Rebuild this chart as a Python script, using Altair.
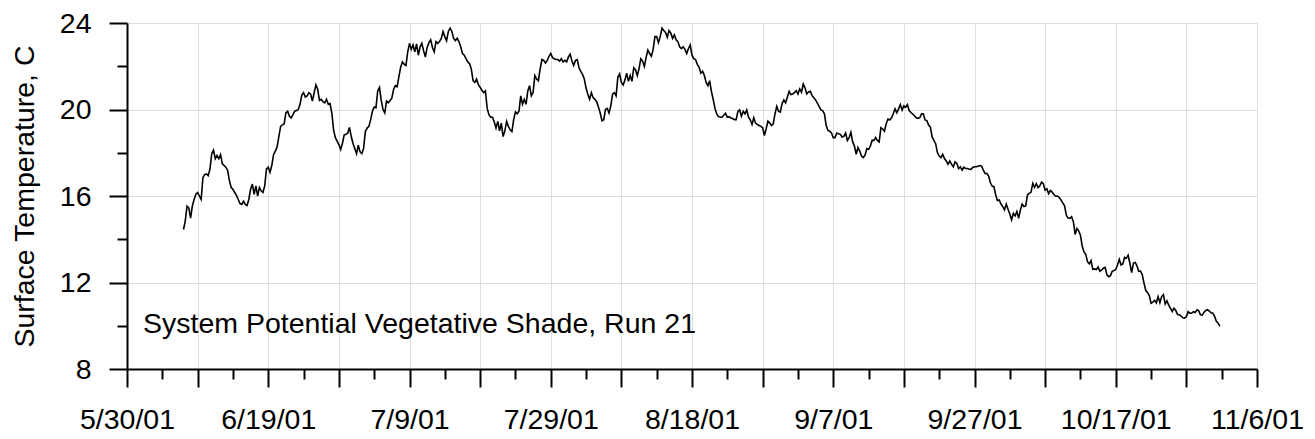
import altair as alt
import pandas as pd

# ---- data (6-hour readings starting 6/7/01 00:00) ----
temps_jun_jul = [
    14.45, 14.85, 15.53, 15.45, 14.98, 15.53, 15.84, 16.08, 16.16, 16.00,
    15.84, 16.86, 16.99, 17.02, 16.94, 17.25, 17.96, 18.12, 17.73, 17.88,
    17.73, 17.91, 17.49, 17.41, 17.33, 17.18, 16.71, 16.39, 16.31, 16.16,
    16.03, 15.84, 15.65, 15.61, 15.76, 15.61, 15.56, 15.84, 16.31, 16.55,
    16.08, 16.47, 16.00, 16.39, 16.24, 16.16, 16.47, 17.25, 17.33, 17.10,
    17.41, 17.91, 18.07, 18.27, 18.75, 19.22, 19.29, 19.33, 19.84, 19.92,
    19.69, 19.61, 19.76, 19.92, 19.95, 20.00, 20.24, 20.67, 20.78, 20.58,
    20.63, 20.78, 20.71, 20.39, 20.78, 21.14, 20.94, 20.42, 20.47, 20.36,
    20.31, 20.47, 20.24, 20.27, 19.84, 19.06, 18.70, 18.54, 18.38, 18.15,
    18.43, 18.82, 18.85, 18.90, 19.17, 18.75, 18.43, 18.20, 17.96, 18.35,
    18.04, 17.96, 18.20, 18.98, 19.14, 19.22, 19.53, 19.92, 20.11, 20.08,
    20.86, 21.02, 20.42, 20.00, 19.84, 20.39, 20.31, 20.42, 20.52, 20.94,
    21.10, 21.05, 21.52, 21.96, 22.20, 22.09, 22.04, 22.67, 23.06, 22.78,
    22.98, 22.67, 23.03, 22.51, 22.90, 23.06, 22.71, 22.43, 22.87, 23.09,
    23.22, 22.87, 22.67, 23.14, 23.06, 23.14, 23.29, 23.61, 23.37, 23.18,
    23.61, 23.76, 23.61, 23.29, 23.18, 23.29, 23.14, 22.90, 22.59, 22.51,
]
temps_jul_aug = [
    22.35, 22.20, 22.12, 21.88, 21.33, 21.25, 21.41, 21.15, 21.02, 20.89,
    20.78, 20.86, 20.05, 19.76, 19.64, 19.64, 19.42, 19.14, 19.45, 19.01,
    19.37, 18.75, 19.01, 19.45, 19.22, 19.06, 18.98, 19.53, 19.89, 19.80,
    19.92, 20.63, 20.24, 20.47, 20.24, 20.86, 21.10, 20.63, 20.78, 21.57,
    21.41, 21.33, 21.88, 22.31, 22.27, 22.15, 22.27, 22.46, 22.59, 22.40,
    22.35, 22.31, 22.31, 22.24, 22.35, 22.20, 22.27, 22.20, 22.43, 22.56,
    22.24, 22.04, 22.27, 22.31, 21.93, 21.76, 21.62, 21.41, 20.99, 20.71,
    20.47, 20.78, 20.55, 20.47, 20.36, 20.11, 19.84, 19.48, 19.53, 20.00,
    20.05, 19.84, 20.16, 20.71, 20.78, 20.63, 21.49, 21.65, 21.25, 21.13,
    21.36, 21.68, 21.30, 21.57, 21.30, 21.93, 21.84, 21.57, 21.88, 22.35,
    22.24, 21.99, 22.40, 22.75, 22.59, 22.46, 22.78, 23.37, 23.37, 23.09,
    23.37, 23.76, 23.65, 23.56, 23.34, 23.65, 23.53, 23.29, 23.45, 23.22,
    23.14, 22.90, 22.82, 22.90, 22.78, 22.59, 22.82, 22.98, 22.51, 22.35,
    22.31, 22.09, 21.96, 21.68, 21.77, 21.57, 21.25, 21.10, 21.33, 20.83,
    20.47, 20.05, 19.80, 19.67, 19.64, 19.64, 19.73, 19.83, 19.64, 19.67,
    19.61, 19.58, 19.53, 19.53, 19.92, 19.98, 19.69, 19.92, 19.80, 19.98,
    19.64,
]
temps_aug_sep = [
    19.52, 19.31, 19.62, 19.37, 19.31, 19.26, 19.22, 19.16, 18.80, 19.11,
    19.46, 19.37, 19.26, 19.34, 19.80, 20.15, 19.92, 19.88, 20.26, 20.44,
    20.31, 20.57, 20.84, 20.69, 20.72, 20.78, 20.87, 20.72, 20.95, 20.80,
    21.18, 21.00, 20.72, 20.81, 20.84, 20.64, 20.54, 20.44, 20.29, 20.14,
    19.98, 19.95, 19.80, 19.26, 19.03, 19.00, 18.91, 18.70, 18.70, 18.91,
    18.88, 18.85, 18.73, 18.76, 18.91, 18.57, 18.70, 18.94, 18.50, 18.31,
    17.93, 18.24, 18.08, 17.85, 17.78, 17.89, 18.19, 18.15, 18.30, 18.57,
    18.57, 18.70, 18.57, 18.50, 19.16, 19.10, 19.00, 19.34, 19.56, 19.52,
    19.62, 19.80, 20.03, 19.85, 20.03, 20.23, 19.98, 20.17, 20.11, 20.23,
    19.95, 19.86, 19.79, 19.71, 19.62, 19.59, 19.62, 19.80, 19.80, 19.52,
    19.49, 19.28, 19.19, 18.73, 18.57, 18.42, 18.01, 17.85, 17.78, 17.93,
    17.73, 17.62, 17.47, 17.62, 17.47, 17.35, 17.58, 17.50, 17.27, 17.35,
    17.20, 17.33, 17.27, 17.27, 17.24, 17.23, 17.32, 17.35, 17.35, 17.38,
    17.41, 17.38, 17.20, 17.04, 17.04, 16.92, 16.61, 16.46, 16.43, 16.05,
    15.79, 15.82, 15.63, 15.51, 15.36, 15.63, 15.39, 15.17, 14.90, 15.20,
    15.08, 15.28, 14.97, 15.36, 15.63, 15.51, 15.54, 16.05, 16.12, 16.17,
    16.58,
]
temps_oct = [
    16.40, 16.57, 16.39, 16.47, 16.64, 16.57, 16.27, 16.33, 16.11, 16.25,
    16.18, 16.07, 15.99, 16.00, 15.93, 15.81, 15.68, 15.55, 15.12, 14.98,
    14.96, 15.04, 14.81, 14.22, 14.50, 14.39, 14.19, 13.69, 13.41, 13.30,
    12.96, 12.86, 13.01, 12.61, 12.63, 12.60, 12.72, 12.52, 12.58, 12.66,
    12.70, 12.35, 12.27, 12.32, 12.52, 12.55, 12.60, 12.81, 13.07, 12.81,
    12.86, 13.16, 13.12, 13.26, 12.89, 12.46, 12.89, 12.93, 12.77, 12.52,
    12.53, 12.37, 11.97, 11.63, 11.54, 11.40, 11.04, 11.09, 11.18, 11.06,
    11.35, 11.07, 11.35, 11.44, 11.01, 11.15, 10.95, 10.81, 10.66, 10.81,
    10.71, 10.52, 10.51, 10.45, 10.37, 10.35, 10.43, 10.65, 10.58, 10.58,
    10.65, 10.61, 10.74, 10.69, 10.51, 10.49, 10.63, 10.71, 10.74, 10.68,
    10.60, 10.58, 10.43, 10.20, 10.12, 9.97,
]
series_start = "2001-06-07 00:00"
reading_step = "6h"

x_start = (2001, 5, 30)
x_end = (2001, 11, 6)
y_domain = [8, 24]
y_tick_values = [8, 10, 12, 14, 16, 18, 20, 22, 24]
annotation_text = "System Potential Vegetative Shade, Run 21"
annotation_time = ["2001-06-01T06:30:00"]
annotation_temp = [9.66]
y_title = "Surface Temperature, C"

# ---- tables ----
temps = temps_jun_jul + temps_jul_aug + temps_aug_sep + temps_oct
df = pd.DataFrame({
    "time": pd.date_range(series_start, periods=len(temps), freq=reading_step),
    "temp": temps,
})
ann = pd.DataFrame({"time": annotation_time, "temp": annotation_temp,
                    "label": [annotation_text]})

x_tick_dates = pd.date_range(f"{x_start[0]}-{x_start[1]}-{x_start[2]}",
                             f"{x_end[0]}-{x_end[1]}-{x_end[2]}", freq="5D")
x_tick_values = [alt.DateTime(year=d.year, month=d.month, date=d.day) for d in x_tick_dates]
x_domain = [alt.DateTime(year=x_start[0], month=x_start[1], date=x_start[2]),
            alt.DateTime(year=x_end[0], month=x_end[1], date=x_end[2])]

FONT = "Arial, Liberation Sans, sans-serif"
FS = 28.5
t0 = f"datetime({x_start[0]}, {x_start[1] - 1}, {x_start[2]})"
day_idx = f"round((datum.value - {t0}) / 864e5)"
x_major = f"{day_idx} % 10 == 0"

x_axis = alt.Axis(
    values=x_tick_values,
    title=None,
    labelExpr=f"({day_idx} % 20 == 0) ? timeFormat(datum.value, '%-m/%-d/%y') : ''",
    tickSize={"condition": {"test": x_major, "value": 18}, "value": 10},
    gridOpacity={"condition": {"test": x_major, "value": 1}, "value": 0},
    labelPadding=18,
    labelOverlap=False,
    labelFlush=False,
    labelAlign="center",
)
y_major = "datum.value % 4 == 0"
y_axis = alt.Axis(
    values=y_tick_values,
    title=y_title,
    labelExpr=f"({y_major}) ? datum.label : ''",
    tickSize={"condition": {"test": y_major, "value": 18}, "value": 10},
    gridOpacity={"condition": {"test": y_major, "value": 1}, "value": 0},
    labelPadding=18,
    labelOverlap=False,
    labelFlush=False,
    titleFontSize=FS,
    titleFontWeight="normal",
    titleFont=FONT,
    titleColor="black",
    titleAngle=270,
    titleX=-103,
    titleY=173,
    titleAlign="center",
    titleBaseline="middle",
)

x_enc = alt.X("time:T", scale=alt.Scale(domain=x_domain, nice=False), axis=x_axis)
y_enc = alt.Y("temp:Q", scale=alt.Scale(domain=y_domain, nice=False, zero=False), axis=y_axis)

line = alt.Chart(df).mark_line(color="black", strokeWidth=1.6).encode(x=x_enc, y=y_enc)
text = alt.Chart(ann).mark_text(
    align="left", baseline="alphabetic", font=FONT, fontSize=FS, color="black"
).encode(x=x_enc, y=y_enc, text="label:N")

chart = alt.layer(line, text).properties(
    width=1130,
    height=346,
    padding={"left": 119, "top": 15, "right": 50, "bottom": 66},
    autosize=alt.AutoSizeParams(type="none"),
).configure_axis(
    domainColor="black",
    domainWidth=2,
    tickColor="black",
    tickWidth=2,
    gridColor="#dedede",
    gridWidth=1,
    labelFont=FONT,
    labelFontSize=FS,
    labelColor="black",
).configure_view(strokeWidth=0)

chart.save("out.html", embed_options={"renderer": "svg", "actions": False})
